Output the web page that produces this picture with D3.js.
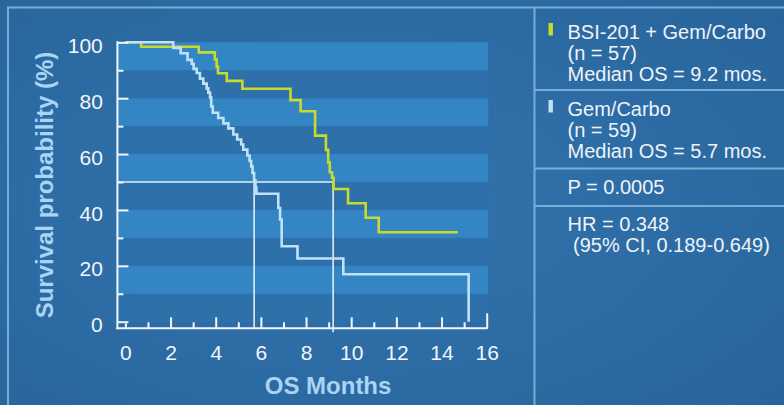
<!DOCTYPE html>
<html>
<head>
<meta charset="utf-8">
<script src="https://cdnjs.cloudflare.com/ajax/libs/d3/7.8.5/d3.min.js"></script>
<style>
  html, body { margin: 0; padding: 0; background: #2d6da6; }
  svg { display: block; }
  text { font-family: "Liberation Sans", Arial, sans-serif; }
</style>
</head>
<body>
<svg id="chart" width="784" height="405"></svg>
<script>
// Kaplan-Meier overall survival, BSI-201 + Gem/Carbo vs Gem/Carbo
const bsiMonths = [0, 0.70, 3.25, 3.96, 4.04, 4.10, 4.49, 5.18, 7.31, 7.76, 8.40, 8.88, 8.98, 9.05, 9.15, 9.22, 9.86, 10.64, 11.22, 14.72];
const bsiSurvival = [100, 98.4, 96.4, 93.9, 91.3, 88.9, 86.2, 83.4, 79.3, 75.3, 66.6, 61.5, 57.0, 53.5, 51.5, 47.5, 42.4, 37.2, 32.0, 32.0];

const gemMonths = [0, 2.12, 2.45, 2.75, 2.94, 3.02, 3.16, 3.30, 3.45, 3.60, 3.67, 3.75, 3.80, 3.87, 4.11, 4.34, 4.56, 4.78, 4.95, 5.13, 5.22, 5.40, 5.50, 5.57, 5.63, 5.70, 5.76, 5.80, 6.77, 6.85, 6.92, 7.62, 9.65, 15.2];
const gemSurvival = [100, 98.0, 96.1, 93.7, 92.3, 90.5, 89.0, 87.0, 85.2, 83.5, 82.0, 80.3, 77.0, 74.8, 72.9, 71.0, 69.2, 67.0, 65.2, 63.4, 61.6, 59.5, 57.5, 55.6, 53.2, 50.6, 48.0, 45.8, 40.7, 36.6, 27.0, 22.6, 17.0, 0];

const medianOS = [9.2, 5.7];          // BSI-201 + Gem/Carbo, Gem/Carbo
const xTicks = d3.range(0, 17);        // every month
const xTickLabels = [0, 2, 4, 6, 8, 10, 12, 14, 16];
const yTicks = d3.range(0, 101, 10);
const yTickLabels = [0, 20, 40, 60, 80, 100];

const legendBlocks = [
  { color: "#c9da2c", lines: ["BSI-201 + Gem/Carbo", "(n = 57)", "Median OS = 9.2 mos."] },
  { color: "#bfe2f8", lines: ["Gem/Carbo", "(n = 59)", "Median OS = 5.7 mos."] },
  { color: null, lines: ["P = 0.0005"] },
  { color: null, lines: ["HR = 0.348", " (95% CI, 0.189-0.649)"] }
];

const svg = d3.select("#chart");
const W = 784, H = 405;

// slide background
const defs = svg.append("defs");
const bg = defs.append("radialGradient").attr("id", "bg").attr("cx", "45%").attr("cy", "50%").attr("r", "75%");
bg.append("stop").attr("offset", "0%").attr("stop-color", "#3274ad");
bg.append("stop").attr("offset", "100%").attr("stop-color", "#28649c");
svg.append("rect").attr("width", W).attr("height", H).attr("fill", "url(#bg)");

// frame lines
const frame = svg.append("g").attr("stroke", "#84b9e2").attr("stroke-width", 2).attr("fill", "none").attr("opacity", 0.85);
frame.append("path").attr("d", `M8,${H} V7.5 H${W}`);
frame.append("line").attr("x1", 534.5).attr("x2", 534.5).attr("y1", 7.5).attr("y2", H);
[90, 168.5, 206].forEach(yy => frame.append("line").attr("x1", 534.5).attr("x2", W).attr("y1", yy).attr("y2", yy));

// scales
const x = d3.scaleLinear().domain([0, 16]).range([125.4, 486.7]);
const y = d3.scaleLinear().domain([0, 100]).range([321.7, 42.3]);
const yAxisX = x(0) - 8;
const xAxisY = y(0) + 6.6;

// alternating horizontal bands
const bands = d3.range(0, 100, 10);
svg.append("g").selectAll("rect").data(bands).join("rect")
  .attr("x", yAxisX)
  .attr("width", x(16) + 1.5 - yAxisX)
  .attr("y", d => y(d + 10))
  .attr("height", d => y(d) - y(d + 10))
  .attr("fill", d => (d / 10) % 2 === 1 ? "#3385c3" : "#2d70aa");

// median reference lines
const med = svg.append("g").attr("stroke", "#e4edf5").attr("stroke-width", 1.6).attr("fill", "none");
med.append("line").attr("x1", yAxisX).attr("x2", x(medianOS[0])).attr("y1", y(50)).attr("y2", y(50));
medianOS.forEach((m, i) => {
  med.append("line").attr("x1", x(m)).attr("x2", x(m)).attr("y1", y(50)).attr("y2", xAxisY + (i === 0 ? 4 : 0));
});

// survival curves
const line = d3.line().x(d => x(d[0])).y(d => y(d[1])).curve(d3.curveStepAfter);
const bsiData = d3.zip(bsiMonths, bsiSurvival);
const gemData = d3.zip(gemMonths, gemSurvival);
svg.append("path").attr("d", line(bsiData)).attr("fill", "none")
  .attr("stroke", "#c9da2c").attr("stroke-width", 2.6).attr("stroke-linejoin", "miter");
svg.append("path").attr("d", line(gemData)).attr("fill", "none")
  .attr("stroke", "#bfe2f8").attr("stroke-width", 2.6).attr("stroke-linejoin", "miter");

// axes
const axisColor = "#f2f6fa";
const axes = svg.append("g");
axes.append("line").attr("x1", yAxisX).attr("x2", yAxisX).attr("y1", y(100) - 1).attr("y2", xAxisY + 1)
  .attr("stroke", axisColor).attr("stroke-width", 2);
axes.append("line").attr("x1", yAxisX - 1).attr("x2", x(16) + 1).attr("y1", xAxisY).attr("y2", xAxisY)
  .attr("stroke", axisColor).attr("stroke-width", 2);

// y ticks point inward
const yTickG = axes.append("g").attr("transform", `translate(${yAxisX},0)`)
  .call(d3.axisRight(y).tickValues(yTicks).tickFormat("").tickSize(11));
yTickG.select(".domain").remove();
yTickG.selectAll(".tick line").attr("stroke", axisColor).attr("stroke-width", 2)
  .attr("x2", d => d % 20 === 0 ? 11 : 6);

// x ticks point up from the axis line
const xTickG = axes.append("g").attr("transform", `translate(0,${xAxisY})`)
  .call(d3.axisTop(x).tickValues(xTicks).tickFormat("").tickSize(11));
xTickG.select(".domain").remove();
xTickG.selectAll(".tick line").attr("stroke", axisColor).attr("stroke-width", 2)
  .attr("y2", d => d === 16 ? -15 : d === 0 ? -5 : d % 2 === 0 ? -11 : -6);

// tick labels
const xLab = axes.append("g").attr("transform", `translate(0,${xAxisY})`)
  .call(d3.axisBottom(x).tickValues(xTickLabels).tickSize(0).tickPadding(17));
xLab.select(".domain").remove();
xLab.selectAll("text").attr("fill", "#f2f6fa").attr("font-size", 21)
  .attr("font-family", "Liberation Sans, Arial, sans-serif");

const yLab = axes.append("g").attr("transform", `translate(${yAxisX},0)`)
  .call(d3.axisLeft(y).tickValues(yTickLabels).tickSize(0).tickPadding(14.6));
yLab.select(".domain").remove();
yLab.selectAll("text").attr("fill", "#f2f6fa").attr("font-size", 21).attr("dy", "0.48em")
  .attr("font-family", "Liberation Sans, Arial, sans-serif");

// axis titles
svg.append("text").attr("x", (x(0) + x(16)) / 2 + 22).attr("y", 394)
  .attr("text-anchor", "middle").attr("font-weight", "bold").attr("font-size", 24)
  .attr("fill", "#a9d4f3").text("OS Months");
svg.append("text").attr("transform", `translate(53,185) rotate(-90)`)
  .attr("text-anchor", "middle").attr("font-weight", "bold").attr("font-size", 24)
  .attr("fill", "#a9d4f3").text("Survival probability (%)");

// legend / statistics panel
const blockTops = [38.5, 115.5, 194, 230.5];
const lineStep = 21;
const panel = svg.append("g");
legendBlocks.forEach((b, i) => {
  const base = blockTops[i];
  if (b.color) {
    panel.append("rect").attr("x", 548.5).attr("y", base - 15.5).attr("width", 4.4).attr("height", 12.5)
      .attr("fill", b.color);
  }
  b.lines.forEach((t, j) => {
    panel.append("text").attr("x", 567.5).attr("y", base + j * lineStep)
      .attr("font-size", 20).attr("fill", "#eef3f8").attr("xml:space", "preserve")
      .style("white-space", "pre").text(t);
  });
});
</script>
</body>
</html>
